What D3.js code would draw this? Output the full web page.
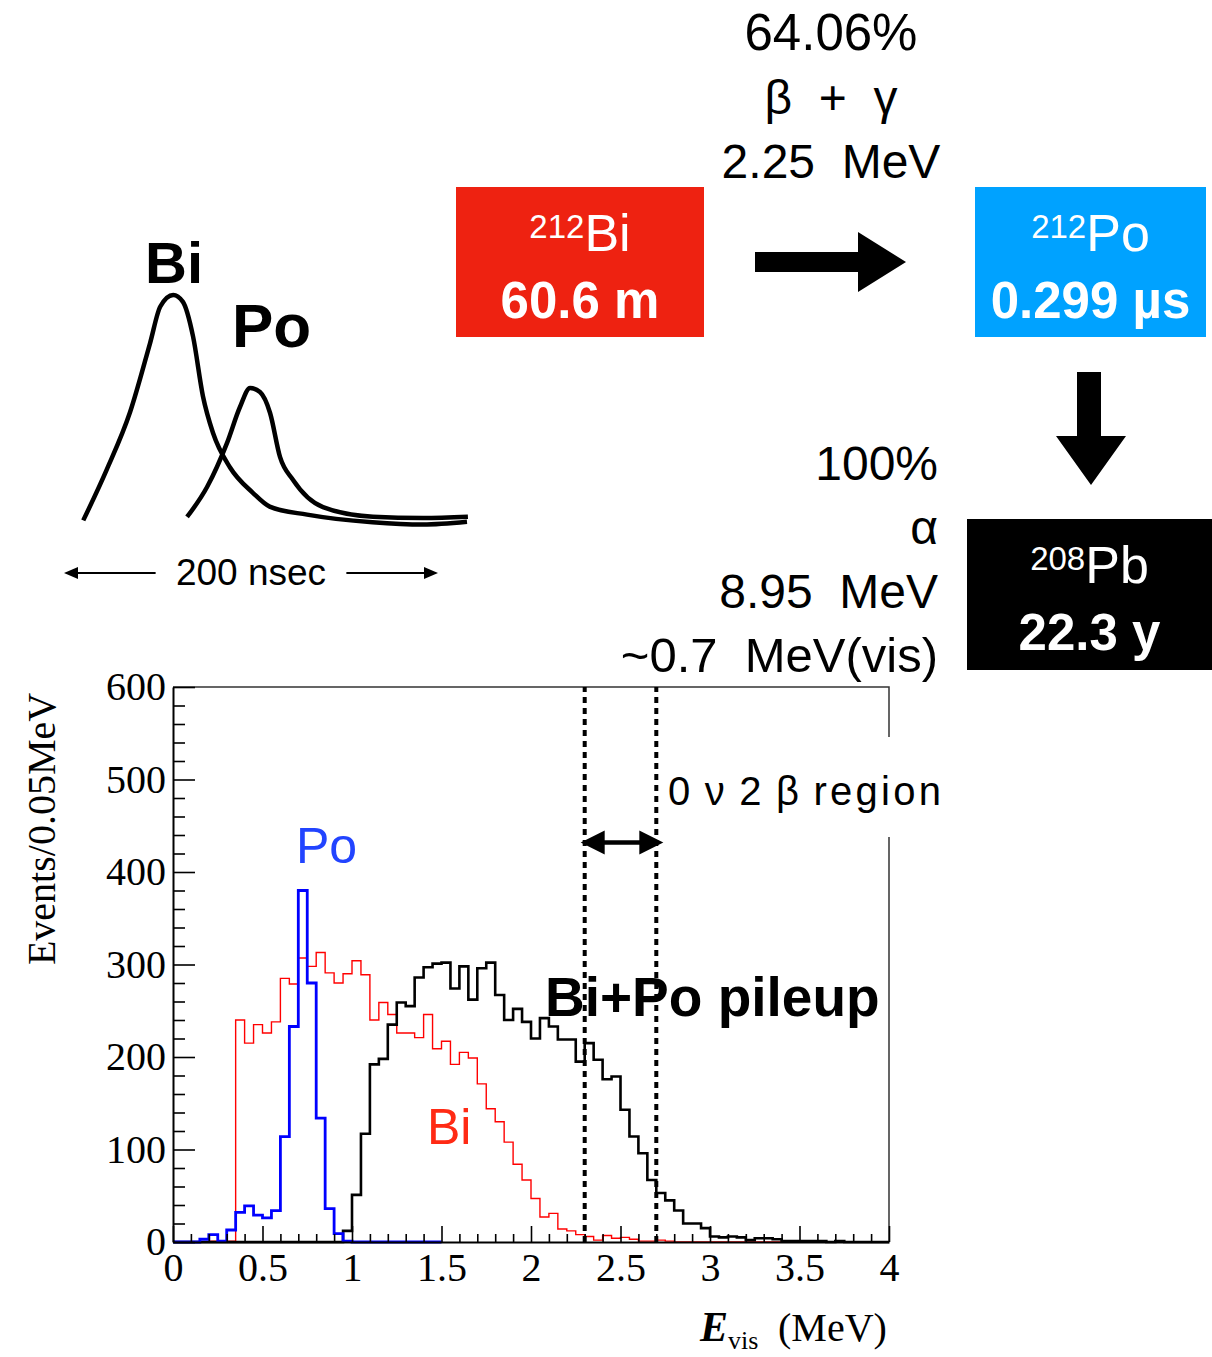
<!DOCTYPE html>
<html>
<head>
<meta charset="utf-8">
<script src="https://cdn.jsdelivr.net/npm/d3@7"></script>
<style>
  body { margin: 0; background: #fff; }
  svg { display: block; }
</style>
</head>
<body>
<div id="chart"></div>
<script>
// histogram contents, 0.05 MeV bins starting at 0 MeV
const binWidth = 0.05;

const biCounts = [
  0, 0, 0, 0, 1, 1, 1, 240, 215, 235,
  226, 238, 285, 279, 307, 298, 313, 291, 280, 290,
  304, 289, 240, 259, 246, 226, 226, 221, 246, 209,
  217, 192, 205, 199, 171, 144, 130, 108, 84, 67,
  47, 27, 31, 14, 12, 8, 6, 2, 7, 4,
  5, 3, 1, 1, 2, 1, 0, 0, 0, 0,
  0, 0, 0, 0, 0, 0, 0, 0, 0, 0,
  0, 0, 0, 0, 0, 0, 0, 0, 0, 0
];

const poCounts = [
  0, 0, 0, 3, 8, 1, 13, 32, 39, 29,
  26, 34, 114, 233, 380, 280, 134, 36, 9, 1,
  0, 0, 0, 0, 0, 0, 0, 0, 0, 0
];

const pileupCounts = [
  0, 0, 0, 0, 0, 0, 0, 0, 0, 0,
  0, 0, 0, 0, 0, 0, 0, 0, 0, 12,
  51, 117, 192, 198, 235, 259, 255, 286, 297, 301,
  302, 274, 298, 262, 296, 302, 267, 240, 252, 238,
  220, 242, 233, 219, 219, 195, 215, 197, 176, 179,
  143, 114, 96, 67, 53, 45, 34, 20, 20, 15,
  6, 5, 6, 5, 2, 4, 4, 3, 1, 1,
  1, 1, 1, 0, 1, 0, 0, 0, 0, 0
];

// axis ticks
const xMajorTicks = [0, 0.5, 1, 1.5, 2, 2.5, 3, 3.5, 4];
const yMajorTicks = [0, 100, 200, 300, 400, 500, 600];
const xMinorStep = 0.1;
const yMinorStep = 20;

// 0nu2beta window (MeV) and arrow height (counts)
const roiEdges = [2.3, 2.7];
const roiArrowLevel = 432;

// pulse sketch: time (nsec) vs relative amplitude
const biPulse = [
  [10.3, 0.02], [22.8, 0.24], [35.3, 0.49], [46, 0.79], [51.5, 0.95],
  [58.4, 1.0], [63.6, 0.97], [69, 0.82], [74.3, 0.56], [79.7, 0.40],
  [88.8, 0.25], [101, 0.14], [110, 0.08], [130, 0.045], [165, 0.012],
  [192, 0.002], [215.5, 0.014]
];
const poPulse = [
  [65.8, 0.035], [76.5, 0.165], [87.2, 0.357], [94.1, 0.513], [99.5, 0.596],
  [104.8, 0.578], [110.2, 0.487], [115.5, 0.296], [122.5, 0.196], [138.5, 0.078],
  [165.2, 0.036], [192, 0.03], [216, 0.036]
];

const width = 1212;
const height = 1357;

const svg = d3.select("#chart")
  .append("svg")
  .attr("width", width)
  .attr("height", height);

const sans = "'Liberation Sans', Arial, Helvetica, sans-serif";
const serif = "'Liberation Serif', 'Times New Roman', serif";

// ---------- histogram frame ----------
const plot = { left: 173, right: 889, top: 687, bottom: 1242 };

const x = d3.scaleLinear().domain([0, 4]).range([plot.left, plot.right]);
const y = d3.scaleLinear().domain([0, 600]).range([plot.bottom, plot.top]);

// top + right frame
svg.append("path")
  .attr("d", `M${plot.left},${plot.top}H${plot.right}V${plot.bottom}`)
  .attr("fill", "none")
  .attr("stroke", "#333")
  .attr("stroke-width", 1.5);

const xMinor = d3.range(0, 4.0001, xMinorStep)
  .filter(v => !xMajorTicks.some(m => Math.abs(m - v) < 1e-6));
const yMinor = d3.range(0, 600.1, yMinorStep)
  .filter(v => !yMajorTicks.includes(v));

// histograms
const stepLine = d3.line()
  .x(d => x(d[0]))
  .y(d => y(d[1]))
  .curve(d3.curveStepAfter);

function stepPoints(counts) {
  const pts = counts.map((c, i) => [i * binWidth, c]);
  pts.push([counts.length * binWidth, counts[counts.length - 1]]);
  return pts;
}

const series = [
  { counts: biCounts, color: "#ff0000", width: 1.4 },
  { counts: pileupCounts, color: "#000000", width: 2.6 },
  { counts: poCounts, color: "#0000ff", width: 2.8 }
];

svg.selectAll(".hist")
  .data(series)
  .enter()
  .append("path")
  .attr("class", "hist")
  .attr("d", d => stepLine(stepPoints(d.counts)))
  .attr("fill", "none")
  .attr("stroke", d => d.color)
  .attr("stroke-width", d => d.width)
  .attr("stroke-linejoin", "miter");

// y axis
svg.append("g")
  .attr("transform", `translate(${plot.left},0)`)
  .call(d3.axisLeft(y).tickValues(yMinor).tickSize(-12).tickSizeOuter(0).tickFormat(""))
  .call(g => g.select(".domain").remove())
  .selectAll("line").attr("stroke-width", 1.6);

const yAxis = svg.append("g")
  .attr("transform", `translate(${plot.left},0)`)
  .call(d3.axisLeft(y).tickValues(yMajorTicks).tickSize(-22).tickSizeOuter(0).tickPadding(7));
yAxis.select(".domain").attr("stroke-width", 2);
yAxis.selectAll("line").attr("stroke-width", 1.6);
yAxis.selectAll("text")
  .attr("font-family", serif)
  .attr("font-size", 40)
  .attr("fill", "#000");

// x axis
svg.append("g")
  .attr("transform", `translate(0,${plot.bottom})`)
  .call(d3.axisBottom(x).tickValues(xMinor).tickSize(-8).tickSizeOuter(0).tickFormat(""))
  .call(g => g.select(".domain").remove())
  .selectAll("line").attr("stroke-width", 1.6);

const xAxis = svg.append("g")
  .attr("transform", `translate(0,${plot.bottom})`)
  .call(d3.axisBottom(x).tickValues(xMajorTicks).tickSize(-16).tickSizeOuter(0).tickPadding(11)
    .tickFormat(d3.format("")));
xAxis.select(".domain").attr("stroke-width", 2);
xAxis.selectAll("line").attr("stroke-width", 1.6);
xAxis.selectAll("text")
  .attr("font-family", serif)
  .attr("font-size", 40)
  .attr("fill", "#000");

// axis titles
svg.append("text")
  .attr("transform", "translate(55,829) rotate(-90)")
  .attr("text-anchor", "middle")
  .attr("font-family", serif)
  .attr("font-size", 40)
  .text("Events/0.05MeV");

const xTitle = svg.append("text")
  .attr("x", 700)
  .attr("y", 1341)
  .attr("font-family", serif)
  .attr("font-size", 40);
xTitle.append("tspan").attr("font-weight", "bold").attr("font-style", "italic").attr("font-size", 42).text("E");
xTitle.append("tspan").attr("font-size", 26).attr("dy", 8).text("vis");
xTitle.append("tspan").attr("x", 778).attr("dy", -8).text("(MeV)");

// histogram labels
svg.append("text")
  .attr("x", 296).attr("y", 863)
  .attr("font-family", sans).attr("font-size", 50)
  .attr("fill", "#2244ff")
  .text("Po");

svg.append("text")
  .attr("x", 427).attr("y", 1144)
  .attr("font-family", sans).attr("font-size", 50)
  .attr("fill", "#ff2a14")
  .text("Bi");

svg.append("text")
  .attr("x", 545).attr("y", 1016)
  .attr("font-family", sans).attr("font-size", 55)
  .attr("font-weight", "bold")
  .text("Bi+Po pileup");

// region label box (covers frame)
svg.append("rect")
  .attr("x", 663).attr("y", 737)
  .attr("width", 283).attr("height", 100)
  .attr("fill", "#fff");

svg.append("text")
  .attr("x", 668).attr("y", 805)
  .attr("font-family", sans).attr("font-size", 40)
  .attr("textLength", 273)
  .attr("lengthAdjust", "spacing")
  .text("0\u2009ν\u20092\u2009β\u2009region");

// dotted region boundaries
svg.selectAll(".roi")
  .data(roiEdges)
  .enter()
  .append("line")
  .attr("class", "roi")
  .attr("x1", d => x(d)).attr("x2", d => x(d))
  .attr("y1", y(0)).attr("y2", y(600))
  .attr("stroke", "#000")
  .attr("stroke-width", 4)
  .attr("stroke-dasharray", "6,5");

// double arrow
const ay = y(roiArrowLevel);
const ax0 = x(roiEdges[0]) - 4;
const ax1 = x(roiEdges[1]) + 7;
const head = 24;
svg.append("line")
  .attr("x1", ax0 + head - 2).attr("x2", ax1 - head + 2)
  .attr("y1", ay).attr("y2", ay)
  .attr("stroke", "#000").attr("stroke-width", 4.5);
svg.append("path")
  .attr("d", `M${ax0},${ay}L${ax0 + head},${ay - 12}L${ax0 + head},${ay + 12}Z`)
  .attr("fill", "#000");
svg.append("path")
  .attr("d", `M${ax1},${ay}L${ax1 - head},${ay - 12}L${ax1 - head},${ay + 12}Z`)
  .attr("fill", "#000");

// ---------- decay chain diagram ----------
const boxes = [
  { x: 456, y: 187, w: 248, h: 150, fill: "#ee2211", mass: "212", el: "Bi", life: "60.6 m" },
  { x: 975, y: 187, w: 231, h: 150, fill: "#00a2ff", mass: "212", el: "Po", life: "0.299 µs" },
  { x: 967, y: 519, w: 245, h: 151, fill: "#000000", mass: "208", el: "Pb", life: "22.3 y" }
];

const boxG = svg.selectAll(".nuc")
  .data(boxes)
  .enter()
  .append("g")
  .attr("class", "nuc");

boxG.append("rect")
  .attr("x", d => d.x).attr("y", d => d.y)
  .attr("width", d => d.w).attr("height", d => d.h)
  .attr("fill", d => d.fill);

const nameText = boxG.append("text")
  .attr("x", d => d.x + d.w / 2)
  .attr("y", d => d.y + 64)
  .attr("text-anchor", "middle")
  .attr("font-family", sans)
  .attr("fill", "#fff");
nameText.append("tspan").attr("font-size", 33).attr("dy", -13).text(d => d.mass);
nameText.append("tspan").attr("font-size", 52).attr("font-weight", 500).attr("dy", 13).text(d => d.el);

boxG.append("text")
  .attr("x", d => d.x + d.w / 2)
  .attr("y", d => d.y + 131)
  .attr("text-anchor", "middle")
  .attr("font-family", sans)
  .attr("font-weight", "bold")
  .attr("font-size", 51)
  .attr("fill", "#fff")
  .text(d => d.life);

// block arrows
svg.append("path")
  .attr("d", "M755,252H858V232L906,262L858,292V272H755Z")
  .attr("fill", "#000");
svg.append("path")
  .attr("d", "M1077,372H1101V436H1126L1091,485L1056,436H1077Z")
  .attr("fill", "#000");

// decay annotations
const betaLines = ["64.06%", "β  +  γ", "2.25  MeV"];
const alphaLines = ["100%", "α", "8.95  MeV", "~0.7  MeV(vis)"];

svg.selectAll(".beta")
  .data(betaLines)
  .enter()
  .append("text")
  .attr("class", "beta")
  .attr("x", 831)
  .attr("y", (d, i) => 50 + i * 64)
  .attr("text-anchor", "middle")
  .attr("font-family", sans)
  .attr("font-size", (d, i) => i === 0 ? 51 : 48)
  .style("white-space", "pre")
  .text(d => d);

svg.selectAll(".alpha")
  .data(alphaLines)
  .enter()
  .append("text")
  .attr("class", "alpha")
  .attr("x", 938)
  .attr("y", (d, i) => 480 + i * 64)
  .attr("text-anchor", "end")
  .attr("font-family", sans)
  .attr("font-size", (d, i) => i === 3 ? 49 : 48)
  .style("white-space", "pre")
  .text(d => d);

// ---------- pulse sketch ----------
const t = d3.scaleLinear().domain([0, 200]).range([64, 438]);
const amp = d3.scaleLinear().domain([0, 1]).range([525, 295]);

const pulseLine = d3.line()
  .x(d => t(d[0]))
  .y(d => amp(d[1]))
  .curve(d3.curveMonotoneX);

svg.selectAll(".pulse")
  .data([biPulse, poPulse])
  .enter()
  .append("path")
  .attr("class", "pulse")
  .attr("d", pulseLine)
  .attr("fill", "none")
  .attr("stroke", "#000")
  .attr("stroke-width", 4.5);

svg.append("text")
  .attr("x", 145).attr("y", 283)
  .attr("font-family", sans).attr("font-weight", "bold").attr("font-size", 58)
  .text("Bi");
svg.append("text")
  .attr("x", 232).attr("y", 347)
  .attr("font-family", sans).attr("font-weight", "bold").attr("font-size", 62)
  .text("Po");

// 200 nsec span
svg.append("text")
  .attr("x", t(100)).attr("y", 585)
  .attr("text-anchor", "middle")
  .attr("font-family", sans).attr("font-size", 37)
  .text("200 nsec");

const spanY = 573;
svg.append("line")
  .attr("x1", t(0) + 10).attr("x2", t(49)).attr("y1", spanY).attr("y2", spanY)
  .attr("stroke", "#000").attr("stroke-width", 2.2);
svg.append("path")
  .attr("d", `M${t(0)},${spanY}L${t(0) + 14},${spanY - 6}L${t(0) + 14},${spanY + 6}Z`);
svg.append("line")
  .attr("x1", t(151)).attr("x2", t(200) - 10).attr("y1", spanY).attr("y2", spanY)
  .attr("stroke", "#000").attr("stroke-width", 2.2);
svg.append("path")
  .attr("d", `M${t(200)},${spanY}L${t(200) - 14},${spanY - 6}L${t(200) - 14},${spanY + 6}Z`);
</script>
</body>
</html>
